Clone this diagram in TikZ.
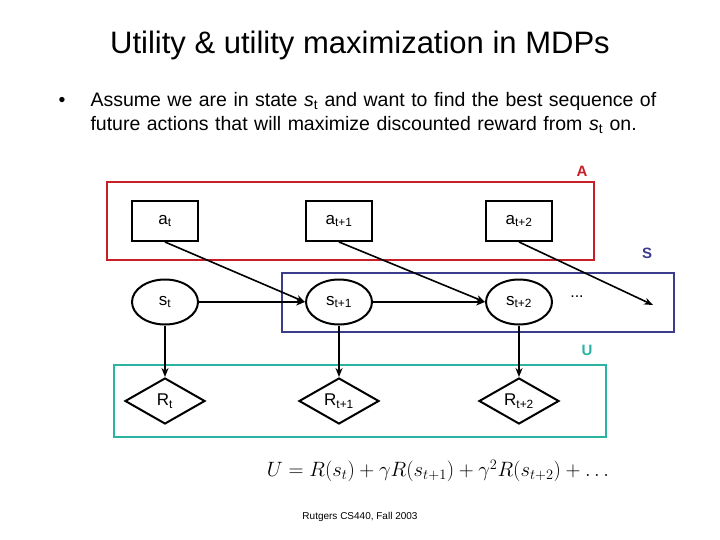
\documentclass[tikz,border=0pt]{standalone}
\usepackage{fontspec}
\setmainfont{Liberation Sans}
\usetikzlibrary{shapes.geometric,arrows.meta}
\begin{document}
\begin{tikzpicture}[x=1pt,y=-1pt,
  box/.style={draw,line width=2pt,minimum width=66pt,minimum height=40pt,inner sep=0pt,font=\fontsize{17}{19}\selectfont},
  st/.style={draw,ellipse,line width=2pt,minimum width=66pt,minimum height=45pt,inner sep=0pt,font=\fontsize{17}{19}\selectfont},
  rw/.style={draw,diamond,aspect=1.75,line width=2pt,minimum width=80pt,minimum height=46pt,inner sep=0pt,font=\fontsize{17}{19}\selectfont},
  arr/.style={-{Stealth[length=9pt,width=7pt]},line width=1.6pt},
  grp/.style={line width=2pt}]
\useasboundingbox (0,0) rectangle (720,540);
\node (title) at (360,45) {\fontsize{31}{36}\selectfont Utility \& utility maximization in MDPs};
\node[anchor=north west,align=left,text width=640pt,font=\fontsize{19.5}{24}\selectfont] (bullet) at (55,89)
 {\makebox[32pt][l]{•}Assume we are in state \textit{s}\textsubscript{t} and want to find the best sequence of\\\hspace*{32pt}future actions that will maximize discounted reward from \textit{s}\textsubscript{t} on.};
\draw[grp,draw={rgb,255:red,200;green,30;blue,40}] (107,182) rectangle (594,260);
\node[text={rgb,255:red,200;green,30;blue,40},font=\fontsize{15}{17}\selectfont\bfseries] (lA) at (582,171) {A};
\draw[grp,draw={rgb,255:red,60;green,60;blue,140}] (282,273) rectangle (674,332);
\node[text={rgb,255:red,60;green,60;blue,140},font=\fontsize{15}{17}\selectfont\bfseries] (lS) at (647,253) {S};
\draw[grp,draw={rgb,255:red,40;green,180;blue,160}] (114,365) rectangle (606,437);
\node[text={rgb,255:red,40;green,180;blue,160},font=\fontsize{15}{17}\selectfont\bfseries] (lU) at (587,350) {U};
\node[box] (a0) at (165,221) {a\textsubscript{t}};
\node[box] (a1) at (339,221) {a\textsubscript{t+1}};
\node[box] (a2) at (519,221) {a\textsubscript{t+2}};
\node[st] (s0) at (165,302) {s\textsubscript{t}};
\node[st] (s1) at (339,302) {s\textsubscript{t+1}};
\node[st] (s2) at (519,302) {s\textsubscript{t+2}};
\node[font=\fontsize{16}{18}\selectfont] (dots) at (577,297) {...};
\coordinate (end) at (653,305);
\node[rw] (r0) at (165,401) {R\textsubscript{t}};
\node[rw] (r1) at (339,401) {R\textsubscript{t+1}};
\node[rw] (r2) at (519,401) {R\textsubscript{t+2}};
\draw[arr] (a0.south) -- (s1.west);
\draw[arr] (a1.south) -- (s2.west);
\draw[arr] (a2.south) -- (end);
\draw[arr] (s0) -- (s1);
\draw[arr] (s1) -- (s2);
\draw[arr] (s0) -- (r0.north);
\draw[arr] (s1) -- (r1.north);
\draw[arr] (s2) -- (r2.north);
\node[font=\fontsize{20}{24}\selectfont] (eq) at (438,471) {$U=R(s_t)+\gamma R(s_{t+1})+\gamma^2R(s_{t+2})+\ldots$};
\node[font=\fontsize{10}{12}\selectfont] (foot) at (360,517) {Rutgers CS440, Fall 2003};
\end{tikzpicture}
\end{document}
